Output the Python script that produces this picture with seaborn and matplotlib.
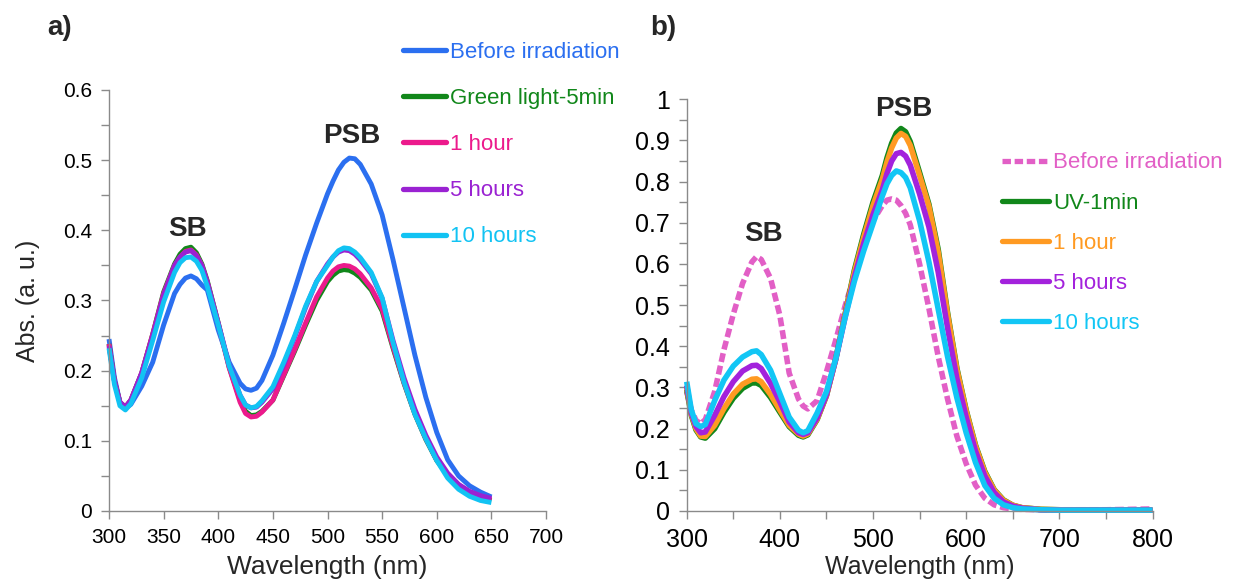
import numpy as np
import pandas as pd
import matplotlib
matplotlib.use("Agg")
import matplotlib.pyplot as plt
import seaborn as sns
from matplotlib.lines import Line2D
from matplotlib.ticker import MultipleLocator, FuncFormatter

# ---------------- Panel a) data ----------------
wl_a = [300, 305, 310, 315, 320, 330, 340, 350, 360, 365, 370, 375, 380, 385, 390, 400,
        410, 420, 425, 430, 435, 440, 450, 460, 470, 480, 490, 500, 505, 510, 515, 520,
        525, 530, 540, 550, 560, 570, 580, 590, 600, 610, 620, 630, 640, 650]
a_before = [.245, .19, .155, .146, .152, .178, .212, .265, .310, .323, .332, .335, .331, .322, .315, .258,
            .212, .182, .174, .172, .175, .186, .222, .268, .316, .365, .41, .452, .47, .486, .497, .503,
            .502, .494, .466, .422, .358, .29, .222, .162, .112, .073, .05, .036, .027, .02]
a_green = [.238, .185, .155, .148, .158, .197, .252, .312, .352, .366, .374, .376, .368, .352, .328, .268,
           .205, .158, .142, .136, .137, .142, .158, .193, .228, .265, .30, .327, .336, .342, .344, .343,
           .339, .333, .315, .285, .232, .182, .138, .102, .072, .051, .036, .026, .02, .015]
a_1h = [.238, .185, .155, .148, .158, .197, .252, .31, .35, .362, .37, .372, .365, .35, .326, .266,
        .204, .155, .139, .134, .135, .141, .158, .194, .23, .268, .305, .332, .342, .348, .35, .349,
        .345, .338, .318, .288, .234, .183, .139, .103, .073, .052, .037, .027, .021, .016]
a_5h = [.235, .185, .155, .148, .158, .197, .25, .308, .35, .362, .369, .371, .364, .35, .326, .268,
        .208, .165, .151, .147, .148, .155, .174, .208, .248, .29, .327, .352, .362, .369, .372, .371,
        .366, .358, .338, .303, .243, .19, .145, .108, .077, .054, .038, .028, .022, .018]
a_10h = [.232, .18, .15, .144, .153, .19, .243, .298, .34, .354, .361, .362, .356, .343, .32, .265,
         .207, .165, .151, .147, .149, .157, .177, .212, .25, .292, .327, .35, .362, .371, .375, .374,
         .369, .361, .34, .304, .24, .184, .138, .103, .072, .047, .031, .021, .015, .012]
labels_a = ["Before irradiation", "Green light-5min", "1 hour", "5 hours", "10 hours"]
colors_a = ["#2b6ff0", "#11871a", "#ec1a8c", "#9a22d2", "#12c3f3"]

# ---------------- Panel b) data ----------------
wl_b = [300, 305, 310, 315, 320, 330, 340, 350, 360, 370, 375, 380, 390, 400, 410, 420,
        425, 430, 440, 450, 460, 470, 480, 490, 500, 510, 515, 520, 525, 530, 535, 540,
        550, 560, 570, 580, 590, 600, 610, 620, 630, 640, 650, 660, 680, 700, 750, 800]
b_before = [.29, .245, .22, .212, .222, .29, .392, .478, .553, .605, .618, .611, .565, .475, .335, .272,
            .255, .248, .268, .338, .415, .498, .572, .638, .705, .742, .755, .758, .755, .742, .723, .695,
            .60, .492, .375, .272, .182, .115, .063, .031, .015, .008, .005, .004, .003, .003, .003, .005]
b_uv = [.295, .232, .197, .18, .177, .20, .24, .274, .298, .311, .311, .305, .276, .24, .205, .184,
        .18, .185, .222, .28, .37, .478, .585, .672, .75, .815, .858, .893, .918, .929, .921, .897,
        .822, .745, .635, .482, .347, .245, .16, .096, .052, .027, .014, .008, .004, .003, .002, .002]
b_1h = [.30, .235, .20, .182, .181, .208, .249, .284, .308, .32, .321, .314, .283, .245, .208, .187,
        .182, .187, .223, .28, .369, .476, .58, .665, .742, .806, .848, .882, .906, .917, .91, .888,
        .815, .74, .628, .478, .344, .243, .158, .094, .051, .026, .014, .008, .004, .003, .002, .002]
b_5h = [.305, .238, .205, .19, .192, .232, .278, .314, .34, .353, .354, .346, .31, .265, .216, .19,
        .186, .19, .226, .282, .368, .47, .568, .65, .72, .78, .82, .85, .868, .871, .862, .84,
        .77, .69, .58, .445, .322, .228, .146, .085, .045, .022, .012, .007, .003, .002, .002, .002]
b_10h = [.314, .245, .212, .205, .21, .268, .318, .352, .374, .387, .389, .38, .342, .285, .228, .196,
         .19, .195, .238, .29, .37, .47, .558, .632, .698, .765, .795, .815, .826, .822, .81, .785,
         .705, .605, .49, .375, .275, .19, .118, .062, .031, .015, .008, .005, .003, .002, .002, .002]
labels_b = ["Before irradiation", "UV-1min", "1 hour", "5 hours", "10 hours"]
colors_b = ["#e25fc6", "#11871a", "#ff9a22", "#a322dc", "#12c6f5"]

# ---------------- Style ----------------
sns.set_theme(style="ticks")
plt.rcParams["font.family"] = ["Liberation Sans", "DejaVu Sans"]

W, H = 1233, 585
fig = plt.figure(figsize=(W / 100, H / 100), dpi=100)
axA = fig.add_axes([109 / W, 74 / H, 437 / W, 421 / H])
axB = fig.add_axes([686.7 / W, 74 / H, 465.8 / W, 411.7 / H])

LW_A = 3.5
LW_B = 4.0
dfA = pd.DataFrame({
    "wl": np.tile(wl_a, len(labels_a)),
    "abs": np.concatenate([a_before, a_green, a_1h, a_5h, a_10h]),
    "series": np.repeat(labels_a, len(wl_a)),
})
sns.lineplot(data=dfA, x="wl", y="abs", hue="series", hue_order=labels_a,
             palette=colors_a, estimator=None, sort=False, lw=LW_A, legend=False, ax=axA)

dfB = pd.DataFrame({
    "wl": np.tile(wl_b, len(labels_b)),
    "abs": np.concatenate([b_before, b_uv, b_1h, b_5h, b_10h]),
    "series": np.repeat(labels_b, len(wl_b)),
})
dash_b = [(1.6, 0.7), "", "", "", ""]
sns.lineplot(data=dfB, x="wl", y="abs", hue="series", hue_order=labels_b,
             style="series", style_order=labels_b, dashes=dash_b,
             palette=colors_b, estimator=None, sort=False, lw=LW_B, legend=False, ax=axB)

for ax in (axA, axB):
    for ln in ax.get_lines():
        ln.set_clip_on(False)
        ln.set_solid_capstyle("butt")
    sns.despine(ax=ax)
    for s in ("left", "bottom"):
        ax.spines[s].set_color("#8a8a8a")
        ax.spines[s].set_linewidth(1.0)
    ax.set_facecolor("white")
    ax.yaxis.set_major_formatter(FuncFormatter(lambda v, p: f"{v:g}"))

axA.set_xlim(300, 700)
axA.set_ylim(0, 0.6)
axA.xaxis.set_major_locator(MultipleLocator(50))
axA.yaxis.set_major_locator(MultipleLocator(0.1))
axA.yaxis.set_minor_locator(MultipleLocator(0.05))
axA.tick_params(which="both", direction="out", length=6, width=1, color="#8a8a8a",
                labelsize=15, pad=6, labelcolor="black")

axB.set_xlim(300, 800)
axB.set_ylim(0, 1)
axB.xaxis.set_major_locator(MultipleLocator(100))
axB.xaxis.set_minor_locator(MultipleLocator(50))
axB.yaxis.set_major_locator(MultipleLocator(0.1))
axB.yaxis.set_minor_locator(MultipleLocator(0.05))
axB.tick_params(which="both", direction="out", length=6, width=1, color="#8a8a8a",
                labelsize=18, pad=6, labelcolor="black")

axA.set_ylabel("Abs. (a. u.)", fontsize=18)
axA.yaxis.set_label_coords(-0.158, 0.5)
axA.set_xlabel("Wavelength (nm)", fontsize=19)
axA.xaxis.set_label_coords(0.5, -0.105)
axB.set_xlabel("Wavelength (nm)", fontsize=18)
axB.xaxis.set_label_coords(0.5, -0.107)
axB.set_ylabel("")

# Peak labels
axA.text(372, 0.402, "SB", ha="center", va="center", fontsize=20, fontweight="bold")
axA.text(522, 0.535, "PSB", ha="center", va="center", fontsize=20, fontweight="bold")
axB.text(382, 0.674, "SB", ha="center", va="center", fontsize=20, fontweight="bold")
axB.text(533, 0.977, "PSB", ha="center", va="center", fontsize=20, fontweight="bold")

fig.text(60 / W, 1 - 28 / H, "a)", ha="center", va="center", fontsize=20, fontweight="bold")
fig.text(663 / W, 1 - 28 / H, "b)", ha="center", va="center", fontsize=20, fontweight="bold")

# Legends
hA = [Line2D([0], [0], color=c, lw=LW_A + 0.3) for c in colors_a]
legA = axA.legend(hA, labels_a, loc="upper left", bbox_to_anchor=(403 / W, 1 - 42 / H),
                  bbox_transform=fig.transFigure, frameon=False, fontsize=16,
                  handlelength=1.95, handletextpad=0.15, labelspacing=1.13,
                  borderpad=0, borderaxespad=0)
for t, c in zip(legA.get_texts(), colors_a):
    t.set_color(c)

hB = [Line2D([0], [0], color=c, lw=LW_A + 0.3, linestyle=((0, d) if d else "-"))
      for c, d in zip(colors_b, dash_b)]
legB = axB.legend(hB, labels_b, loc="upper left", bbox_to_anchor=(1001.7 / W, 1 - 152.5 / H),
                  bbox_transform=fig.transFigure, frameon=False, fontsize=16,
                  handlelength=2.15, handletextpad=0.15, labelspacing=0.86,
                  borderpad=0, borderaxespad=0)
for t, c in zip(legB.get_texts(), colors_b):
    t.set_color(c)

fig.savefig("out.png", dpi=100, facecolor="white")
